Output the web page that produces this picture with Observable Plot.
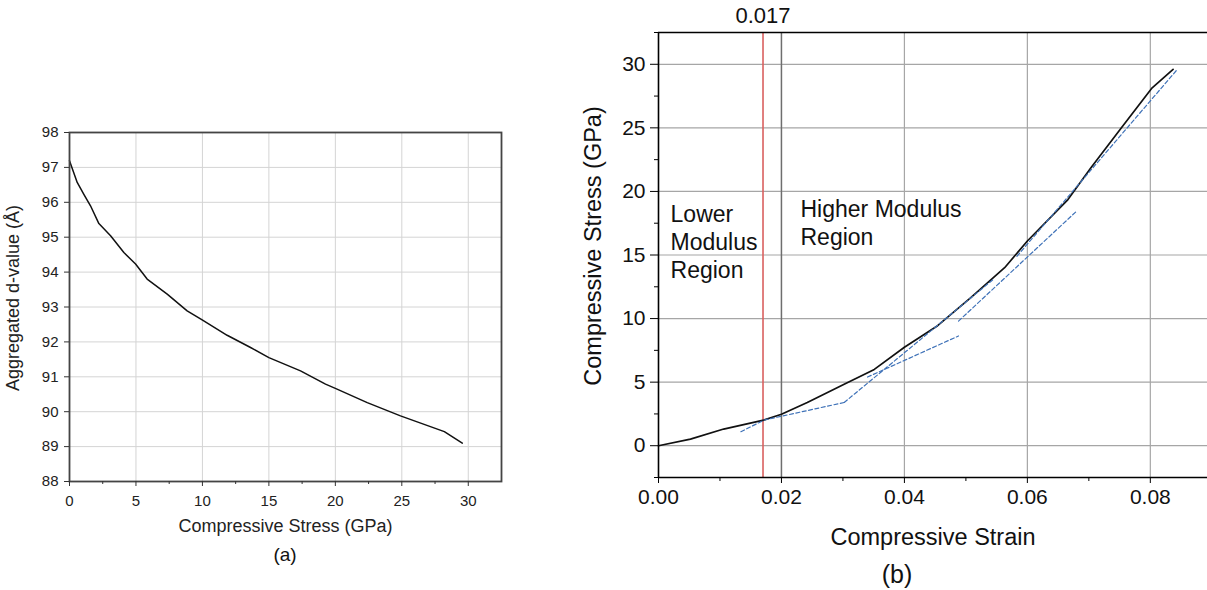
<!DOCTYPE html>
<html><head><meta charset="utf-8">
<script src="https://cdn.jsdelivr.net/npm/d3@7"></script>
<script src="https://cdn.jsdelivr.net/npm/@observablehq/plot@0.6"></script>
<style>
html,body{margin:0;padding:0;background:#fff;}
body{width:1207px;height:590px;overflow:hidden;position:relative;font-family:"Liberation Sans",Arial,sans-serif;}
#a{position:absolute;left:0;top:0}
#b{position:absolute;left:580px;top:0}
.cap{position:absolute;color:#111;transform:translate(-50%,-50%);white-space:nowrap;}
</style></head><body>
<div id="a"></div><div id="b"></div>
<div class="cap" style="left:285px;top:555px;font-size:19px">(a)</div>
<div class="cap" style="left:897px;top:574px;font-size:25px">(b)</div>
<script>
// ---------- Panel (a) data ----------
const stressA = [0, 0.58, 1.08, 1.58, 2.21, 3.09, 4.09, 4.97, 5.84, 7.35, 8.85, 9.98, 11.86, 13.62, 15.0, 17.38, 19.26, 20.0, 22.4, 24.9, 28.2, 29.55];
const dValueA = [97.19, 96.57, 96.23, 95.90, 95.39, 95.04, 94.56, 94.23, 93.80, 93.37, 92.89, 92.63, 92.19, 91.84, 91.55, 91.17, 90.79, 90.67, 90.26, 89.88, 89.43, 89.10];
const xTicksA = [0, 5, 10, 15, 20, 25, 30];
const xMinorA = [2.5, 7.5, 12.5, 17.5, 22.5, 27.5];
const yTicksA = [88, 89, 90, 91, 92, 93, 94, 95, 96, 97, 98];
const xDomainA = [0, 32.5];
const yDomainA = [88, 98];

// ---------- Panel (b) data ----------
const strainB = [0, 0.0052, 0.0106, 0.0171, 0.0200, 0.0242, 0.0302, 0.0351, 0.0400, 0.0454, 0.0508, 0.0563, 0.0600, 0.0666, 0.0704, 0.0753, 0.0803, 0.0837];
const stressB = [0, 0.52, 1.31, 2.01, 2.48, 3.40, 4.84, 6.00, 7.74, 9.44, 11.64, 14.0, 16.1, 19.36, 21.9, 25.0, 28.15, 29.6];
const fitId     = [1, 1, 1, 2, 2, 3, 3, 4, 4, 5, 5];
const fitStrain = [0.0134, 0.0172, 0.0302, 0.0302, 0.0545, 0.0340, 0.0488, 0.0488, 0.0679, 0.0583, 0.0844];
const fitStress = [1.10, 2.02, 3.40, 3.40, 13.1, 5.40, 8.63, 9.80, 18.4, 14.9, 29.6];
const thresholdStrain = [0.017];
const markedStrain = [0.02];
const regionLabels = ["Lower\nModulus\nRegion", "Higher Modulus\nRegion"];
const xTicksB = [0, 0.02, 0.04, 0.06, 0.08];
const xMinorB = [0.01, 0.03, 0.05, 0.07];
const yTicksB = [0, 5, 10, 15, 20, 25, 30];
const yMinorB = [-2.5, 2.5, 7.5, 12.5, 17.5, 22.5, 27.5, 32.5];
const xDomainB = [0, 0.0893];
const yDomainB = [-2.5, 32.5];

const FONT = "Liberation Sans, Arial, sans-serif";

function fixLabels(svg, labelSize, tickSize, yShift) {
  svg.querySelectorAll("g[aria-label='x-axis label'] text, g[aria-label='y-axis label'] text").forEach(t => {
    t.style.fontSize = labelSize;
    t.querySelectorAll("tspan").forEach(s => { s.textContent = s.textContent.replace(/\s*[←↑→↓]\s*/g, ""); });
    if (!t.querySelector("tspan")) t.textContent = t.textContent.replace(/\s*[←↑→↓]\s*/g, "");
  });
  svg.querySelectorAll("g[aria-label='x-axis tick label'], g[aria-label='y-axis tick label']").forEach(g => {
    g.setAttribute("font-size", tickSize);
    g.querySelectorAll("text").forEach(t => t.style.fontSize = tickSize + "px");
  });
  const g = svg.querySelector("g[aria-label='y-axis label']");
  if (g) g.setAttribute("transform", ((g.getAttribute("transform") || "") + ` translate(0,${yShift})`).trim());
}

// ---------- Panel (a) ----------
const curveA = stressA.map((s, i) => ({s, d: dValueA[i]}));
const plotA = Plot.plot({
  width: 560, height: 590,
  marginLeft: 69, marginRight: 59, marginTop: 132, marginBottom: 109,
  style: {fontFamily: FONT, background: "transparent", color: "#222"},
  x: {domain: xDomainA},
  y: {domain: yDomainA},
  marks: [
    Plot.gridX(xTicksA, {stroke: "#d4d4d4", strokeOpacity: 1}),
    Plot.gridY(yTicksA, {stroke: "#d4d4d4", strokeOpacity: 1}),
    Plot.line(curveA, {x: "s", y: "d", stroke: "#111", strokeWidth: 1.5}),
    Plot.frame({stroke: "#444", strokeWidth: 1.8}),
    Plot.axisX(xTicksA, {tickSize: 5, tickPadding: 9, fontSize: 15, stroke: "#333",
      label: "Compressive Stress (GPa)", labelAnchor: "center", labelOffset: 50, labelArrow: false}),
    Plot.axisX(xMinorA, {tickSize: 3, tickFormat: () => "", stroke: "#333", label: null}),
    Plot.axisY(yTicksA, {tickSize: 5, tickPadding: 6, fontSize: 15, stroke: "#333",
      label: "Aggregated d-value (Å)", labelAnchor: "center", labelOffset: 63, labelArrow: false})
  ]
});
fixLabels(plotA, "18px", 15, -9);
document.getElementById("a").append(plotA);

// ---------- Panel (b) ----------
const curveB = strainB.map((x, i) => ({x, y: stressB[i]}));
const fits = fitId.map((id, i) => ({id, x: fitStrain[i], y: fitStress[i]}));
const plotB = Plot.plot({
  width: 627, height: 590,
  marginLeft: 78, marginRight: 0, marginTop: 32, marginBottom: 113,
  style: {fontFamily: FONT, background: "transparent", color: "#111"},
  x: {domain: xDomainB},
  y: {domain: yDomainB},
  marks: [
    Plot.gridX(xTicksB.slice(1), {stroke: "#a6a6a6", strokeOpacity: 1, strokeWidth: 1.2}),
    Plot.gridY(yTicksB, {stroke: "#a6a6a6", strokeOpacity: 1, strokeWidth: 1.2}),
    Plot.ruleX(markedStrain, {stroke: "#6e6e6e", strokeWidth: 1.4}),
    Plot.ruleX(thresholdStrain, {stroke: "#d9605f", strokeWidth: 1.6}),
    Plot.line(curveB, {x: "x", y: "y", stroke: "#111", strokeWidth: 1.7}),
    Plot.line(fits, {x: "x", y: "y", z: "id", stroke: "#3f72b8", strokeWidth: 1.2, strokeDasharray: "4,2.5"}),
    Plot.text(thresholdStrain, {x: d => d, frameAnchor: "top", lineAnchor: "middle", dy: -17, text: d => d.toFixed(3), fontSize: 22, fill: "#111"}),
    Plot.text([regionLabels[0]], {x: () => 0.00196, y: () => 16.09, text: d => d, textAnchor: "start", lineAnchor: "middle", lineHeight: 1.22, fontSize: 23, fill: "#111"}),
    Plot.text([regionLabels[1]], {x: () => 0.0231, y: () => 17.58, text: d => d, textAnchor: "start", lineAnchor: "middle", lineHeight: 1.22, fontSize: 23, fill: "#111"}),
    Plot.ruleX([xDomainB[0]], {stroke: "#000", strokeWidth: 1.6}),
    Plot.ruleY([yDomainB[0]], {stroke: "#000", strokeWidth: 1.6}),
    Plot.ruleY([yDomainB[1]], {stroke: "#000", strokeWidth: 1.6}),
    Plot.axisX(xTicksB, {tickSize: 6, tickPadding: 6, fontSize: 21, stroke: "#000", tickFormat: d3.format(".2f"),
      label: "Compressive Strain", labelAnchor: "center", labelOffset: 67, labelArrow: false}),
    Plot.axisX(xMinorB, {tickSize: 4, tickFormat: () => "", stroke: "#000", label: null}),
    Plot.axisY(yTicksB, {tickSize: 8, tickPadding: 5, fontSize: 21, stroke: "#000",
      label: "Compressive Stress (GPa)", labelAnchor: "center", labelOffset: 74, labelArrow: false}),
    Plot.axisY(yMinorB, {tickSize: 4, tickFormat: () => "", stroke: "#000", label: null})
  ]
});
fixLabels(plotB, "23.5px", 21, -9);
document.getElementById("b").append(plotB);
</script>
</body></html>
